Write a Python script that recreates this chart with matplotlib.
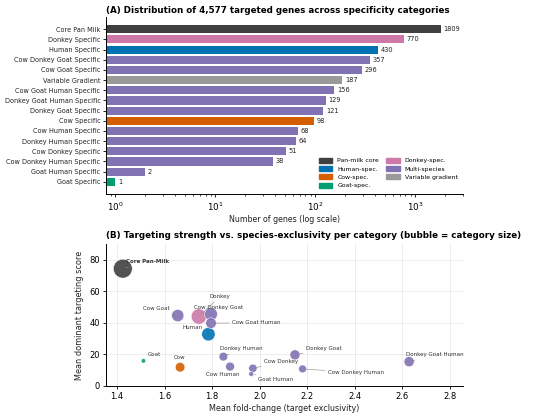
import matplotlib
matplotlib.use("Agg")
import matplotlib.pyplot as plt
import numpy as np

# bar panel data (top to bottom)
categories = ["Core Pan Milk", "Donkey Specific", "Human Specific", "Cow Donkey Goat Specific",
              "Cow Goat Specific", "Variable Gradient", "Cow Goat Human Specific",
              "Donkey Goat Human Specific", "Donkey Goat Specific", "Cow Specific",
              "Cow Human Specific", "Donkey Human Specific", "Cow Donkey Specific",
              "Cow Donkey Human Specific", "Goat Human Specific", "Goat Specific"]
counts = [1809, 770, 430, 357, 296, 187, 156, 129, 121, 98, 68, 64, 51, 38, 2, 1]
groups = ["pan", "donkey", "human", "multi", "multi", "variable", "multi", "multi", "multi",
          "cow", "multi", "multi", "multi", "multi", "multi", "goat"]

group_colors = {"pan": "#404040", "human": "#0072B2", "cow": "#D55E00", "goat": "#009E73",
                "donkey": "#CC79A7", "multi": "#8172B3", "variable": "#999999"}
legend_order = ["pan", "human", "cow", "goat", "donkey", "multi", "variable"]
legend_names = {"pan": "Pan-milk core", "human": "Human-spec.", "cow": "Cow-spec.",
                "goat": "Goat-spec.", "donkey": "Donkey-spec.", "multi": "Multi-species",
                "variable": "Variable gradient"}

# bubble panel data
b_labels = ["Core Pan-Milk", "Donkey", "Human", "Cow Donkey Goat", "Cow Goat", "Cow Goat Human",
            "Donkey Goat Human", "Donkey Goat", "Cow", "Cow Human", "Donkey Human",
            "Cow Donkey", "Cow Donkey Human", "Goat Human", "Goat"]
b_fold = [1.424, 1.744, 1.784, 1.795, 1.655, 1.795, 2.628, 2.148, 1.665, 1.875, 1.847,
          1.971, 2.180, 1.964, 1.511]
b_score = [74.3, 44.0, 32.8, 45.5, 44.6, 39.8, 15.4, 19.7, 11.9, 12.3, 18.6, 11.2, 10.8, 7.6, 15.9]
b_size = [1809, 770, 430, 357, 296, 156, 129, 121, 98, 68, 64, 51, 38, 2, 1]
b_group = ["pan", "donkey", "human", "multi", "multi", "multi", "multi", "multi", "cow",
           "multi", "multi", "multi", "multi", "multi", "goat"]
# label positions (text anchor, left aligned)
b_text_xy = [(1.438, 78.7), (1.79, 56.7), (1.673, 36.8), (1.724, 49.5), (1.51, 48.9),
             (1.883, 40.0), (2.614, 19.7), (2.194, 23.6), (1.64, 17.8), (1.773, 7.2),
             (1.833, 23.5), (2.018, 15.2), (2.287, 8.5), (1.994, 4.4), (1.527, 19.7)]

fig = plt.figure(figsize=(5.5, 4.18), dpi=100)

# ---- (A) bar chart ----
ax1 = fig.add_axes([0.193, 0.536, 0.649, 0.423])
y = np.arange(len(categories))
bar_cols = [group_colors[g] for g in groups]
ax1.barh(y, counts, color=bar_cols, height=0.8)
ax1.set_xscale("log")
ax1.set_yticks(y)
ax1.set_yticklabels(categories, fontsize=4.7, color="#222222")
ax1.invert_yaxis()
ax1.set_xlim(0.81, 3020)
for yi, c in zip(y, counts):
    ax1.text(c * 1.06, yi, str(c), va="center", ha="left", fontsize=4.8, color="#222222")
ax1.set_xlabel("Number of genes (log scale)", fontsize=5.7, color="#222222", labelpad=2)
ax1.set_title("(A) Distribution of 4,577 targeted genes across specificity categories",
              fontsize=6.3, fontweight="bold", pad=3, loc="left")
ax1.tick_params(axis="x", labelsize=6.3, length=2.5, width=0.6, pad=2)
ax1.tick_params(axis="x", which="minor", length=1.5, width=0.5)
ax1.tick_params(axis="y", length=2, width=0.6, pad=2)
for s in ["top", "right"]:
    ax1.spines[s].set_visible(False)
for s in ["left", "bottom"]:
    ax1.spines[s].set_linewidth(0.7)

handles = [plt.Rectangle((0, 0), 1, 1, color=group_colors[g]) for g in legend_order]
ax1.legend(handles, [legend_names[g] for g in legend_order], ncol=2, frameon=False,
           fontsize=4.4, loc="lower right", bbox_to_anchor=(1.0, 0.0),
           handlelength=2.2, handleheight=0.9, columnspacing=1.2, labelspacing=0.45)

# ---- (B) bubble chart ----
ax2 = fig.add_axes([0.193, 0.0766, 0.649, 0.340])
sizes = [6 + 4.2 * np.sqrt(n) for n in b_size]
ax2.scatter(b_fold, b_score, s=sizes,
            c=[group_colors[g] for g in b_group], alpha=0.9,
            edgecolors="white", linewidths=0.4, zorder=3)
for i, lab in enumerate(b_labels):
    bold = "bold" if i == 0 else "normal"
    ax2.annotate(lab, xy=(b_fold[i], b_score[i]), xytext=b_text_xy[i],
                 textcoords="data", fontsize=4.0, fontweight=bold, color="#333333",
                 ha="left", va="center",
                 arrowprops=dict(arrowstyle="-", color="#888888", lw=0.4,
                                 shrinkA=0, shrinkB=2), zorder=4)
ax2.set_xlim(1.354, 2.855)
ax2.set_ylim(0, 90)
ax2.set_xticks([1.4, 1.6, 1.8, 2.0, 2.2, 2.4, 2.6, 2.8])
ax2.set_yticks([0, 20, 40, 60, 80])
ax2.grid(True, color="#e6e6e6", linewidth=0.5, zorder=0)
ax2.set_axisbelow(True)
ax2.set_xlabel("Mean fold-change (target exclusivity)", fontsize=5.8, color="#222222", labelpad=2)
ax2.set_ylabel("Mean dominant targeting score", fontsize=5.9, color="#222222")
ax2.set_title("(B) Targeting strength vs. species-exclusivity per category (bubble = category size)",
              fontsize=6.3, fontweight="bold", pad=4, loc="left")
ax2.tick_params(labelsize=6, length=2.5, width=0.6, pad=2)
for s in ["top", "right"]:
    ax2.spines[s].set_visible(False)
for s in ["left", "bottom"]:
    ax2.spines[s].set_linewidth(0.7)

fig.savefig("out.png", dpi=100)
